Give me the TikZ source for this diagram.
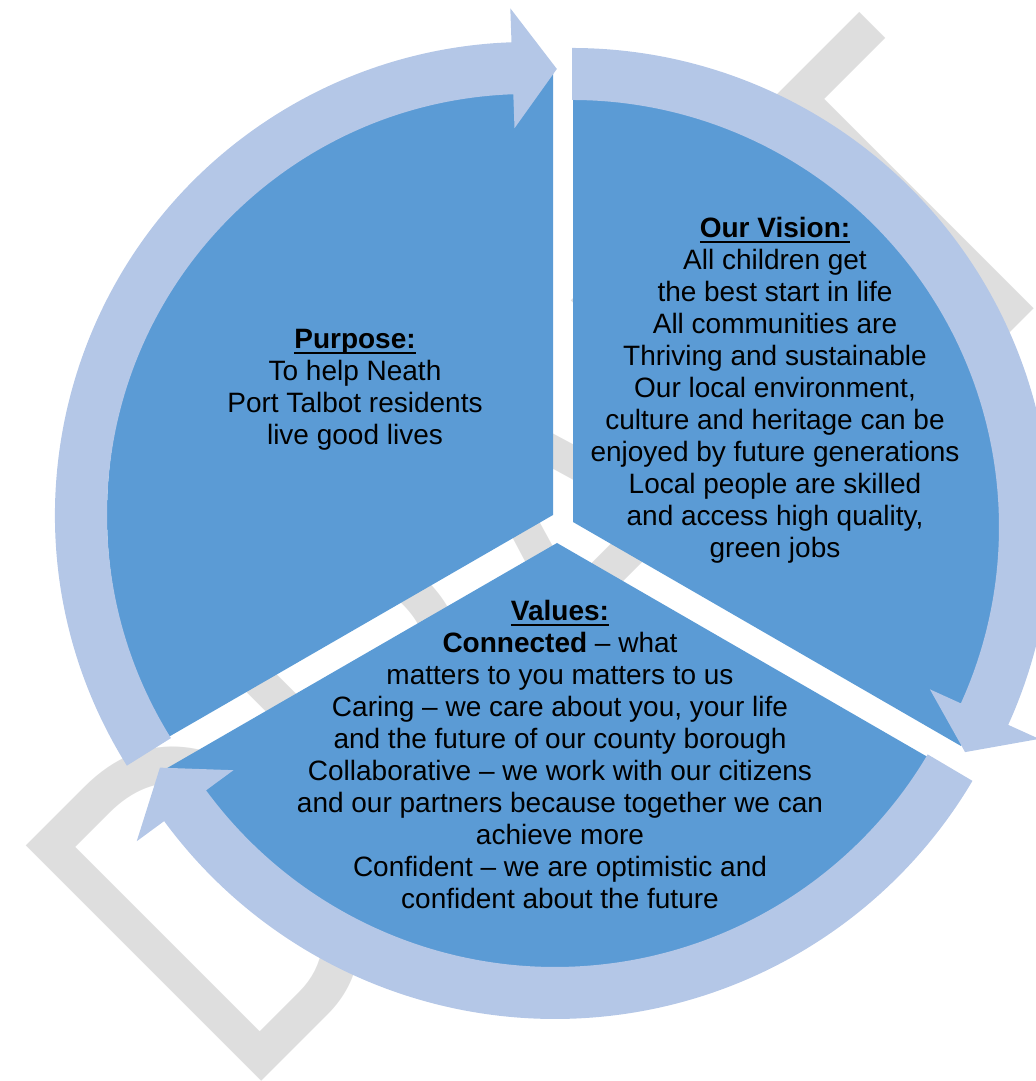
\documentclass[tikz,border=0pt]{standalone}
\usepackage{fontspec}
\usepackage{graphicx}
\setmainfont{Liberation Sans}
\definecolor{segblue}{RGB}{91,155,213}
\definecolor{ringblue}{RGB}{180,199,231}
\definecolor{wmgray}{RGB}{222,222,222}
\newcommand{\hd}[1]{\setbox0\hbox{\bfseries #1}\rlap{\rule[-2.4pt]{\wd0}{1pt}}\box0}
\tikzset{
  seg/.style={fill=segblue},
  ring/.style={fill=ringblue},
  txt/.style={font=\fontsize{14}{16}\selectfont,inner sep=0pt,anchor=base},
  wm/.style={text=wmgray,font=\fontsize{242}{242}\selectfont,inner sep=0pt,anchor=base west,rotate=45}
}
\begin{document}
\begin{tikzpicture}[x=0.5pt,y=0.5pt]
\useasboundingbox (0,0) rectangle (1036,1081);
\clip (0,0) rectangle (1036,1081);
\node[wm] (draft) at (240.6,-21.4) {\scalebox{0.754}[1]{DRAFT}};
\foreach \cx/\cy/\rad/\a/\b in {553/566/446/90/210,573/559/448/-30/90,557/538/456/210/330}{
  \fill[seg] (\cx,\cy) -- ++(\a:\rad) arc[start angle=\a,end angle=\b,radius=\rad] -- cycle;}
\foreach \cx/\cy/\rad/\ta/\ba/\pa in {528/566/447/212/92/86.3,572/554/453/90/-24.4/-29.8,555/547/459/329.4/216.3/210.6}{
  \begin{scope}[shift={(\cx,\cy)}]
  \fill[ring] ({\ta}:{\rad+26}) arc[start angle=\ta,end angle=\ba,radius=\rad+26]
    -- ({\ba}:{\rad+60}) -- ({\pa}:{\rad}) -- ({\ba}:{\rad-60}) -- ({\ba}:{\rad-26})
    arc[start angle=\ba,end angle=\ta,radius=\rad-26] -- cycle;
  \end{scope}}
\node[txt] (purpose) at (355,732) {\begin{tabular}[t]{@{}c@{}}\hd{Purpose:}\\To help Neath\\Port Talbot residents\\live good lives\end{tabular}};
\node[txt] (vision) at (775,843) {\begin{tabular}[t]{@{}c@{}}\hd{Our Vision:}\\All children get\\the best start in life\\All communities are\\Thriving and sustainable\\Our local environment,\\culture and heritage can be\\enjoyed by future generations\\Local people are skilled\\and access high quality,\\green jobs\end{tabular}};
\node[txt] (values) at (560,460) {\begin{tabular}[t]{@{}c@{}}\hd{Values:}\\\textbf{Connected} – what\\matters to you matters to us\\Caring – we care about you, your life\\and the future of our county borough\\Collaborative – we work with our citizens\\and our partners because together we can\\achieve more\\Confident – we are optimistic and\\confident about the future\end{tabular}};
\end{tikzpicture}
\end{document}
